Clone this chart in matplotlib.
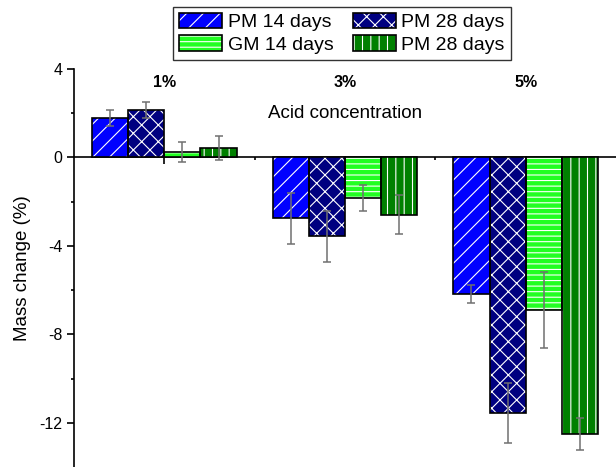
import matplotlib.pyplot as plt
import numpy as np
from matplotlib.legend_handler import HandlerTuple

plt.rcParams['font.family'] = ['Liberation Sans', 'DejaVu Sans']
plt.rcParams['hatch.linewidth'] = 0.8
plt.rcParams['axes.unicode_minus'] = False

concentrations = ['1%', '3%', '5%']
labels = ['PM 14 days', 'PM 28 days', 'GM 14 days', 'PM 28 days']

pm14 = [1.80, -2.76, -6.17]
pm14_err = [0.36, 1.16, 0.40]
pm28 = [2.16, -3.57, -11.57]
pm28_err = [0.37, 1.14, 1.36]
gm14 = [0.26, -1.84, -6.89]
gm14_err = [0.45, 0.58, 1.72]
pm28b = [0.44, -2.59, -12.52]
pm28b_err = [0.54, 0.88, 0.72]

values = [pm14, pm28, gm14, pm28b]
errors = [pm14_err, pm28_err, gm14_err, pm28b_err]
colors = ['#0000FF', '#000080', '#22FF22', '#008000']
hatches = ['//', 'xx', '---', '||']

fig = plt.figure(figsize=(6.16, 4.67), dpi=100)
ax = fig.add_axes([0.1201, 0.0, 0.8799, 0.8522])

x = np.arange(1, len(concentrations) + 1)
width = 0.2
offsets = [-0.3, -0.1, 0.1, 0.3]

handles = []
for vals, errs, c, h, off in zip(values, errors, colors, hatches, offsets):
    # white hatch on the fill, then a black outline on top
    fill = ax.bar(x + off, vals, width, color=c, hatch=h, edgecolor='white',
                  linewidth=0, zorder=3)
    edge = ax.bar(x + off, vals, width, fill=False, edgecolor='black',
                  linewidth=1.2, zorder=3.1)
    eb = ax.errorbar(x + off, vals, yerr=errs, fmt='none', ecolor='#707070',
                     elinewidth=1.1, capsize=3, capthick=1.1, zorder=4)
    for cap in eb[1]:
        cap.set_color('black')
    handles.append((fill[0], edge[0]))

ax.set_xlim(0.5, 3.5)
ax.set_ylim(-14, 4)

ax.spines['top'].set_visible(False)
ax.spines['right'].set_visible(False)
ax.spines['bottom'].set_position(('data', 0))
ax.spines['left'].set_linewidth(1.2)
ax.spines['bottom'].set_linewidth(1.2)

ax.set_xticks(x)
ax.set_xticks([1.5, 2.5], minor=True)
ax.set_xticklabels([])
ax.set_yticks([-12, -8, -4, 0, 4])
ax.set_yticks([-10, -6, -2, 2], minor=True)
ax.tick_params(which='major', direction='out', length=5, width=1.2,
               labelsize=11.5)
ax.tick_params(which='minor', direction='out', length=2.5, width=1.2)

ax.set_ylabel('Mass change (%)', fontsize=13.5, labelpad=6)

for xi, name in zip(x, concentrations):
    ax.text(xi, 3.4, name, ha='center', va='center', fontsize=11.5,
            fontweight='bold')
ax.text(2, 1.99, 'Acid concentration', ha='center', va='center',
        fontsize=13.5)

# legend fills column by column, so order entries to read row by row
order = [0, 2, 1, 3]
leg = fig.legend([handles[i] for i in order], [labels[i] for i in order],
                 handler_map={tuple: HandlerTuple(ndivide=1)},
                 ncol=2, loc='upper center', bbox_to_anchor=(0.555, 0.985),
                 borderaxespad=0, fontsize=14, frameon=True, fancybox=False,
                 handlelength=2.2, handleheight=0.85, handletextpad=0.3,
                 columnspacing=1.0, labelspacing=0.2, borderpad=0.3)
leg.get_frame().set_edgecolor('black')
leg.get_frame().set_linewidth(1.0)

fig.savefig('out.png', dpi=100)
